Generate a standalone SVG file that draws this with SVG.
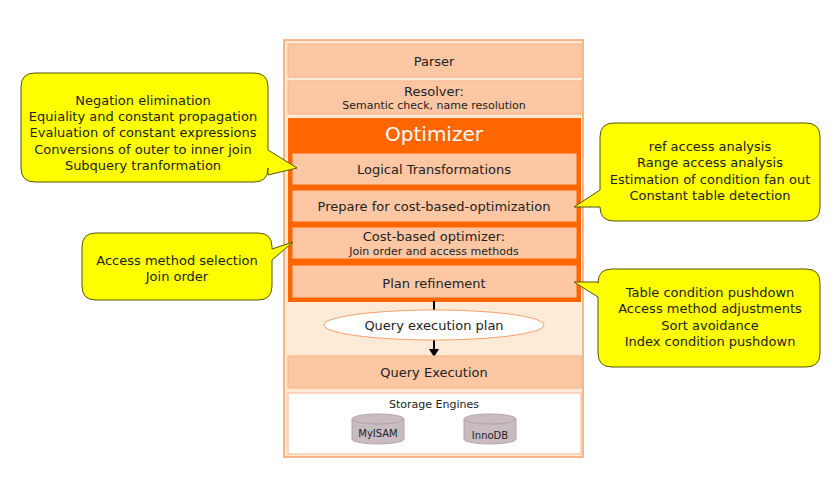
<svg xmlns="http://www.w3.org/2000/svg" width="840" height="477" viewBox="0 0 840 477">
<style>
text{font-family:"DejaVu Sans",sans-serif;fill:#222;text-anchor:middle}
.t{font-size:13px}.s{font-size:11px}
.box{fill:#fdc7a3;stroke:#f9b58c;stroke-width:1.2}
.in{fill:#fdc7a3;stroke:#ff6600;stroke-width:3}
.call{fill:#ffff00;stroke:#555500;stroke-width:1}
.cyl{fill:#c9bcc0;stroke:#b0a4a8}
</style>
<defs><marker id="ah" markerWidth="8" markerHeight="10" refX="7" refY="5" orient="auto" markerUnits="userSpaceOnUse"><path d="M0,0 L8,5 L0,10 Z" fill="#000"/></marker></defs>
<rect width="840" height="477" fill="#fff"/>
<g id="stack">
<rect x="284" y="40" width="299" height="417" fill="#fdebd7" stroke="#f6a068" stroke-width="1.5"/>
</g>
<g id="parser"><rect class="box" x="288" y="44" width="293" height="33"/><text class="t" x="434" y="66">Parser</text></g>
<g id="resolver"><rect class="box" x="288" y="81" width="293" height="33"/><text class="t" x="434" y="96">Resolver:</text><text class="s" x="434" y="109">Semantic check, name resolution</text></g>
<g id="optimizer"><rect x="288" y="118" width="293" height="184" fill="#ff6600"/><text x="434" y="141" style="font-size:20px;fill:#fff">Optimizer</text></g>
<g id="logical"><rect class="in" x="291" y="152" width="287" height="34"/><text class="t" x="434" y="174">Logical Transformations</text></g>
<g id="prepare"><rect class="in" x="291" y="189" width="287" height="34"/><text class="t" x="434" y="211">Prepare for cost-based-optimization</text></g>
<g id="cost"><rect class="in" x="291" y="226" width="287" height="34"/><text class="t" x="434" y="241">Cost-based optimizer:</text><text class="s" x="434" y="255">Join order and access methods</text></g>
<g id="plan"><rect class="in" x="291" y="264" width="287" height="35"/><text class="t" x="434" y="288">Plan refinement</text></g>
<g id="connectors"><line x1="434" y1="301" x2="434" y2="356" stroke="#000" stroke-width="2" marker-end="url(#ah)"/></g>
<g id="qep"><ellipse cx="434" cy="325" rx="110" ry="15" fill="#fff" stroke="#f6a068"/><text class="t" x="434" y="330">Query execution plan</text></g>
<g id="exec"><rect class="box" x="288" y="356" width="293" height="32"/><text class="t" x="434" y="377">Query Execution</text></g>
<g id="storage"><rect x="288" y="393" width="293" height="61" fill="#fff" stroke="#f9b58c"/><text class="s" x="434" y="408">Storage Engines</text></g>
<g id="myisam"><path class="cyl" d="M352,419 v20 a26,5 0 0 0 52,0 v-20 Z"/><ellipse class="cyl" cx="378" cy="419" rx="26" ry="5"/><text x="378" y="437" style="font-size:10px">MyISAM</text></g>
<g id="innodb"><path class="cyl" d="M464,419 v20 a26,5 0 0 0 52,0 v-20 Z"/><ellipse class="cyl" cx="490" cy="419" rx="26" ry="5"/><text x="490" y="439" style="font-size:10px">InnoDB</text></g>
<g id="callout1"><path class="call" d="M35,73 H254 Q268,73 268,87 V150 L297,168 L268,175 V168 Q268,182 254,182 H35 Q21,182 21,168 V87 Q21,73 35,73 Z"/>
<text class="t" x="143" y="105">Negation elimination</text><text class="t" x="143" y="121">Equiality and constant propagation</text><text class="t" x="143" y="137">Evaluation of constant expressions</text><text class="t" x="143" y="154">Conversions of outer to inner join</text><text class="t" x="143" y="170">Subquery tranformation</text></g>
<g id="callout2"><path class="call" d="M96,233 H258 Q272,233 272,247 V249 L293,242 L272,260 V286 Q272,300 258,300 H96 Q82,300 82,286 V247 Q82,233 96,233 Z"/>
<text class="t" x="177" y="265">Access method selection</text><text class="t" x="177" y="281">Join order</text></g>
<g id="callout3"><path class="call" d="M614,123 H806 Q820,123 820,137 V207 Q820,221 806,221 H614 Q600,221 600,207 V207 L574,207 L600,190 V137 Q600,123 614,123 Z"/>
<text class="t" x="710" y="151">ref access analysis</text><text class="t" x="710" y="167">Range access analysis</text><text class="t" x="710" y="184">Estimation of condition fan out</text><text class="t" x="710" y="200">Constant table detection</text></g>
<g id="callout4"><path class="call" d="M612,269 H806 Q820,269 820,283 V353 Q820,367 806,367 H612 Q598,367 598,353 V297 L574,282 L598,282 V283 Q598,269 612,269 Z"/>
<text class="t" x="710" y="297">Table condition pushdown</text><text class="t" x="710" y="313">Access method adjustments</text><text class="t" x="710" y="330">Sort avoidance</text><text class="t" x="710" y="346">Index condition pushdown</text></g>
</svg>
